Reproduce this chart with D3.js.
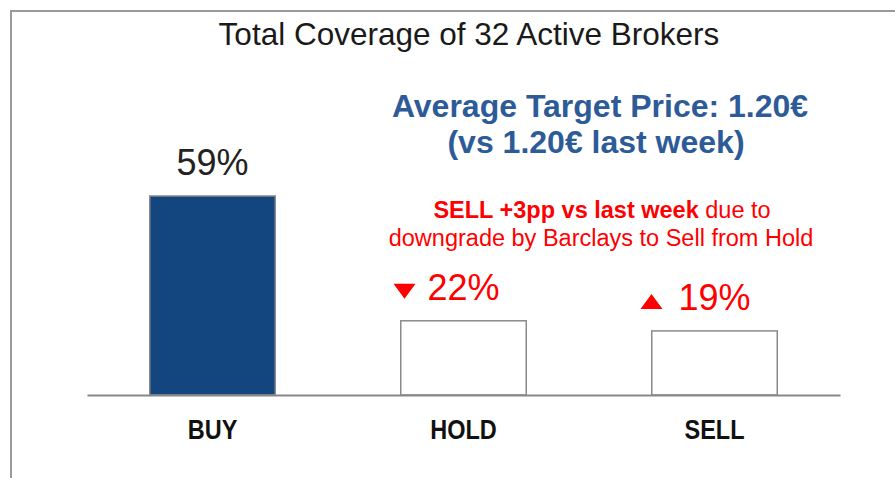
<!DOCTYPE html>
<html lang="en">
  <head>
    <meta charset="UTF-8" />
    <title>Total Coverage of 32 Active Brokers</title>
    <script src="https://d3js.org/d3.v7.min.js"></script>
    <style>
      body {
        margin: 0;
        background: #fff;
      }
      svg text {
        font-family: Arial, "Liberation Sans", sans-serif;
      }
      .axis text {
        font-weight: bold;
        font-size: 27px;
        fill: #111;
      }
    </style>
  </head>
  <body>
    <svg width="895" height="478"></svg>
    <script>
      // data
      const categories = ["BUY", "HOLD", "SELL"];
      const shares = [59, 22, 19];
      const shareLabels = ["59%", "22%", "19%"];
      const changes = ["none", "down", "up"];

      const title = "Total Coverage of 32 Active Brokers";
      const priceLines = ["Average Target Price: 1.20€", "(vs 1.20€ last week)"];
      const noteBold = "SELL +3pp vs last week";
      const noteRest = " due to";
      const noteLine2 = "downgrade by Barclays to Sell from Hold";

      const svg = d3.select("svg");

      // frame (cut off on the right and bottom)
      svg
        .append("rect")
        .attr("x", 11)
        .attr("y", 11)
        .attr("width", 1000)
        .attr("height", 1000)
        .attr("fill", "none")
        .attr("stroke", "#9a9a9a")
        .attr("stroke-width", 2);

      const x = d3
        .scaleBand()
        .domain(categories)
        .range([87, 840])
        .paddingInner(0.5)
        .paddingOuter(0.25);

      const y = d3.scaleLinear().domain([0, 100]).range([395, 57.7]);

      // bars
      svg
        .append("g")
        .selectAll("rect")
        .data(categories)
        .enter()
        .append("rect")
        .attr("x", (d) => x(d))
        .attr("y", (d, i) => y(shares[i]))
        .attr("width", x.bandwidth())
        .attr("height", (d, i) => y(0) - y(shares[i]))
        .attr("fill", (d, i) => (i === 0 ? "#13467f" : "#fff"))
        .attr("stroke", "#8a8a8a")
        .attr("stroke-width", 1.5);

      // axis
      const axis = svg
        .append("g")
        .attr("class", "axis")
        .attr("transform", `translate(0,${y(0)})`)
        .call(d3.axisBottom(x).tickSize(0).tickPadding(25));
      axis.select(".domain").attr("stroke", "#888").attr("stroke-width", 2);
      // narrow look of the category labels
      axis.selectAll(".tick text").attr("transform", "scale(0.87,1)");

      // value labels
      const cx = (d) => x(d) + x.bandwidth() / 2;
      svg
        .append("g")
        .selectAll("text")
        .data(categories)
        .enter()
        .append("text")
        .attr("x", cx)
        .attr("y", (d, i) => y(shares[i]) - 21)
        .attr("text-anchor", "middle")
        .attr("font-size", 36)
        .attr("fill", (d, i) => (changes[i] === "none" ? "#222" : "#ff0000"))
        .text((d, i) => shareLabels[i]);

      // change arrows
      const tri = { down: "M-11,-15L11,-15L0,0Z", up: "M-11,0L11,0L0,-15Z" };
      svg
        .append("g")
        .selectAll("path")
        .data(categories.filter((d, i) => changes[i] !== "none"))
        .enter()
        .append("path")
        .attr("d", (d) => tri[changes[categories.indexOf(d)]])
        .attr("fill", "#ff0000")
        .attr("transform", (d) => {
          const i = categories.indexOf(d);
          const off = changes[i] === "down" ? 59 : 63;
          return `translate(${cx(d) - off},${y(shares[i]) - 22})`;
        });

      // title
      svg
        .append("text")
        .attr("x", 469)
        .attr("y", 45)
        .attr("text-anchor", "middle")
        .attr("font-size", 31.5)
        .attr("fill", "#1a1a1a")
        .text(title);

      // average target price
      svg
        .append("g")
        .selectAll("text")
        .data(priceLines)
        .enter()
        .append("text")
        .attr("x", (d, i) => (i === 0 ? 600 : 596))
        .attr("y", (d, i) => 117 + i * 36)
        .attr("text-anchor", "middle")
        .attr("font-size", 32)
        .attr("font-weight", "bold")
        .attr("fill", "#2d5b98")
        .text((d) => d);

      // red note
      const note = svg
        .append("text")
        .attr("x", 602)
        .attr("y", 218)
        .attr("text-anchor", "middle")
        .attr("font-size", 23.5)
        .attr("fill", "#ff0000");
      note.append("tspan").attr("font-weight", "bold").text(noteBold);
      note.append("tspan").text(noteRest);
      svg
        .append("text")
        .attr("x", 601)
        .attr("y", 246)
        .attr("text-anchor", "middle")
        .attr("font-size", 23.5)
        .attr("fill", "#ff0000")
        .text(noteLine2);
    </script>
  </body>
</html>
